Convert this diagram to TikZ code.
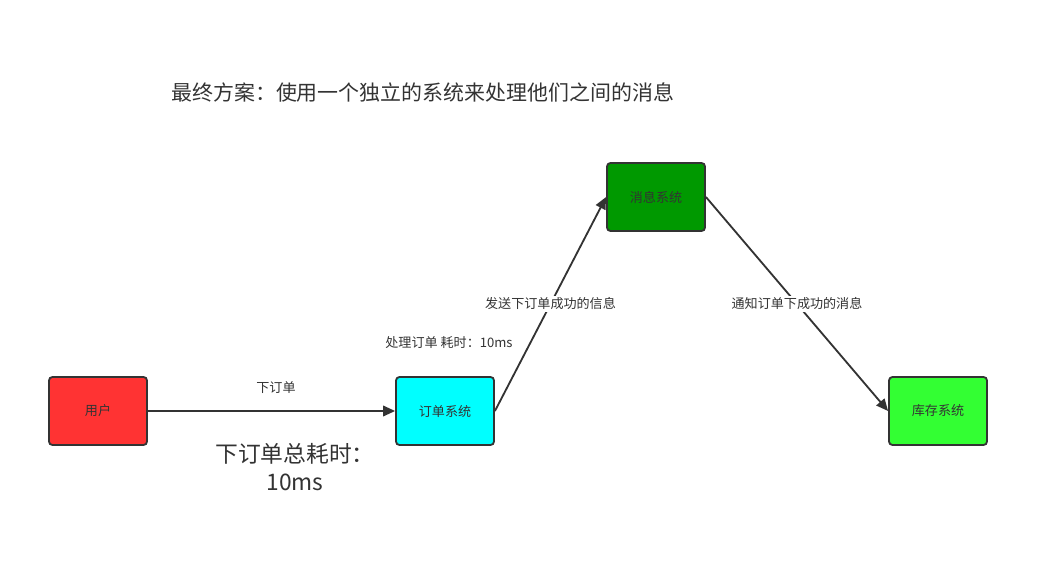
\documentclass[tikz,border=0pt]{standalone}
\usepackage{fontspec}
\setmainfont{Noto Sans CJK SC}
\usepackage{tikz}
\usetikzlibrary{arrows.meta}
\definecolor{linegray}{HTML}{333333}
\definecolor{txtgray}{HTML}{333333}
\definecolor{userred}{HTML}{FF3333}
\definecolor{ordercyan}{HTML}{00FFFF}
\definecolor{mqgreen}{HTML}{009900}
\definecolor{stockgreen}{HTML}{33FF33}
\tikzset{
  sysbox/.style={draw=linegray, line width=1.3pt, rounded corners=2.5pt,
    minimum width=2.45cm, minimum height=1.7cm, inner sep=0pt,
    font=\fontsize{9.3}{11}\selectfont, text=txtgray},
  lbl/.style={font=\fontsize{9.3}{11}\selectfont, text=txtgray, inner sep=1pt},
  >={Triangle[length=8.5pt,width=7.5pt]}
}

\begin{document}
\begin{tikzpicture}[x=0.025cm, y=-0.025cm]
  \useasboundingbox (0,0) rectangle (1050,564);
  \node[font=\fontsize{14.9}{17}\selectfont, text=txtgray, anchor=west, inner sep=0pt] (title) at (171,92) {最终方案：使用一个独立的系统来处理他们之间的消息};
  \node[sysbox, fill=userred] (user) at (98,411) {用户};
  \node[sysbox, fill=ordercyan] (order) at (445,411) {订单系统};
  \node[sysbox, fill=mqgreen] (mq) at (656,197) {消息系统};
  \node[sysbox, fill=stockgreen] (stock) at (938,411) {库存系统};
  \draw[->, linegray, line width=1.3pt] (user) -- (order);
  \draw[->, linegray, line width=1.3pt] (order.east) -- (mq.west)
    node[lbl, midway, fill=white] (sendlbl) {发送下订单成功的信息};
  \draw[->, linegray, line width=1.3pt] (mq.east) -- (stock.west)
    node[lbl, midway, fill=white] (notelbl) {通知订单下成功的消息};
  % labels
  \node[lbl] (orderlbl) at (276,388) {下订单};
  \node[lbl] (costlbl) at (449,343) {处理订单 耗时：10ms};
  \node[font=\fontsize{16.2}{20}\selectfont, text=txtgray, align=center] (totallbl) at (295,467) {下订单总耗时：\\10ms};
\end{tikzpicture}
\end{document}
